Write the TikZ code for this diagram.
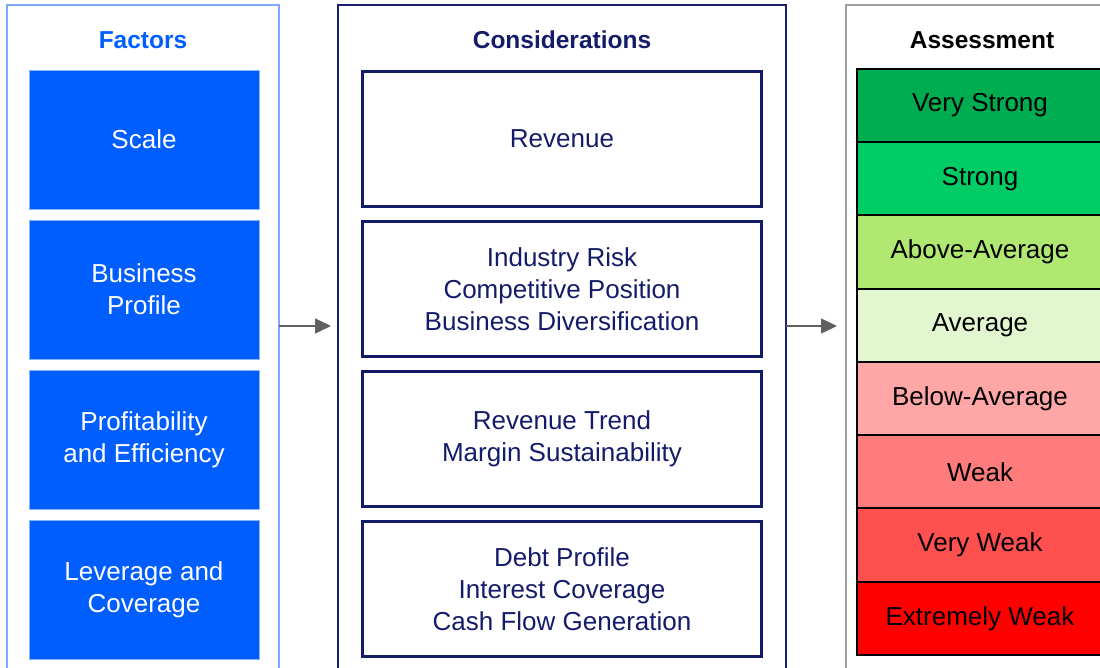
\documentclass[tikz,border=0pt]{standalone}
\usepackage{fontspec}
\setmainfont{Liberation Sans}
\usetikzlibrary{positioning,arrows.meta}

\definecolor{factblue}{HTML}{005EFF}
\definecolor{factedge}{HTML}{7FA8F8}
\definecolor{boxedge}{HTML}{8CB2FA}
\definecolor{navy}{HTML}{141C6A}
\definecolor{navyedge}{HTML}{1B1F6E}
\definecolor{assedge}{HTML}{A0A0A0}
\definecolor{arrowgray}{HTML}{606060}
\definecolor{vstrong}{HTML}{00AC50}
\definecolor{strong}{HTML}{00CC66}
\definecolor{aboveavg}{HTML}{B0E872}
\definecolor{avg}{HTML}{E2F6CF}
\definecolor{belowavg}{HTML}{FFA6A6}
\definecolor{weak}{HTML}{FF7C7C}
\definecolor{vweak}{HTML}{FF5050}
\definecolor{xweak}{HTML}{FF0000}

\tikzset{
  panel/.style={draw, line width=1.2pt, minimum width=#1, minimum height=700pt,
    inner sep=0pt, outer sep=0pt, anchor=north},
  heading/.style={font=\bfseries\fontsize{24.5}{30}\selectfont},
  label/.style={font=\fontsize{26}{32}\selectfont, align=center},
  factbox/.style={label, fill=factblue, draw=boxedge, line width=0.8pt, text=white,
    minimum width=230pt, minimum height=139pt, inner sep=0pt, outer sep=0pt},
  consbox/.style={label, draw=navy, line width=3pt, text=navy,
    minimum width=399pt, minimum height=135pt, inner sep=0pt, outer sep=0pt},
  rating/.style={label, fill=#1, draw=black, line width=2pt,
    minimum width=246pt, minimum height=73.25pt, inner sep=0pt, outer sep=0pt},
  flow/.style={draw=arrowgray, line width=1.5pt,
    -{Triangle[length=16pt,width=15pt,fill=arrowgray]}},
}

\begin{document}
\begin{tikzpicture}[x=1pt, y=-1pt]
  \clip (0,0) rectangle (1100,668);

  % columns
  \node[panel=272pt, draw=factedge] (factors) at (143,5) {};
  \node[panel=448pt, draw=navyedge] (cons) at (562,5) {};
  \node[panel=268pt, draw=assedge] (assess) at (980,5) {};

  \node[heading, text=factblue] (factT) at (143,40) {Factors};
  \node[heading, text=navy] (consT) at (562,40) {Considerations};
  \node[heading, text=black] (assessT) at (982,40) {Assessment};

  % factors
  \node[factbox] (f1) at (144,139.5) {Scale};
  \node[factbox, below=11pt of f1] (f2) {Business\\Profile};
  \node[factbox, below=11pt of f2] (f3) {Profitability\\and Efficiency};
  \node[factbox, below=11pt of f3] (f4) {Leverage and\\Coverage};

  % considerations
  \node[consbox] (c1) at (562,139) {Revenue};
  \node[consbox, below=15pt of c1] (c2) {Industry Risk\\Competitive Position\\Business Diversification};
  \node[consbox, below=15pt of c2] (c3) {Revenue Trend\\Margin Sustainability};
  \node[consbox, below=15pt of c3] (c4) {Debt Profile\\Interest Coverage\\Cash Flow Generation};

  % assessment scale
  \node[rating=vstrong] (r1) at (980,105.6) {Very Strong};
  \node[rating=strong, below=0pt of r1] (r2) {Strong};
  \node[rating=aboveavg, below=0pt of r2] (r3) {Above-Average};
  \node[rating=avg, below=0pt of r3] (r4) {Average};
  \node[rating=belowavg, below=0pt of r4] (r5) {Below-Average};
  \node[rating=weak, below=0pt of r5] (r6) {Weak};
  \node[rating=vweak, below=0pt of r6] (r7) {Very Weak};
  \node[rating=xweak, below=0pt of r7] (r8) {Extremely Weak};

  % arrows
  \coordinate (mid) at (0,326);
  \draw[flow, shorten >=7pt] (factors.east |- mid) -- (cons.west |- mid);
  \draw[flow, shorten >=9pt] (cons.east |- mid) -- (assess.west |- mid);
\end{tikzpicture}
\end{document}
